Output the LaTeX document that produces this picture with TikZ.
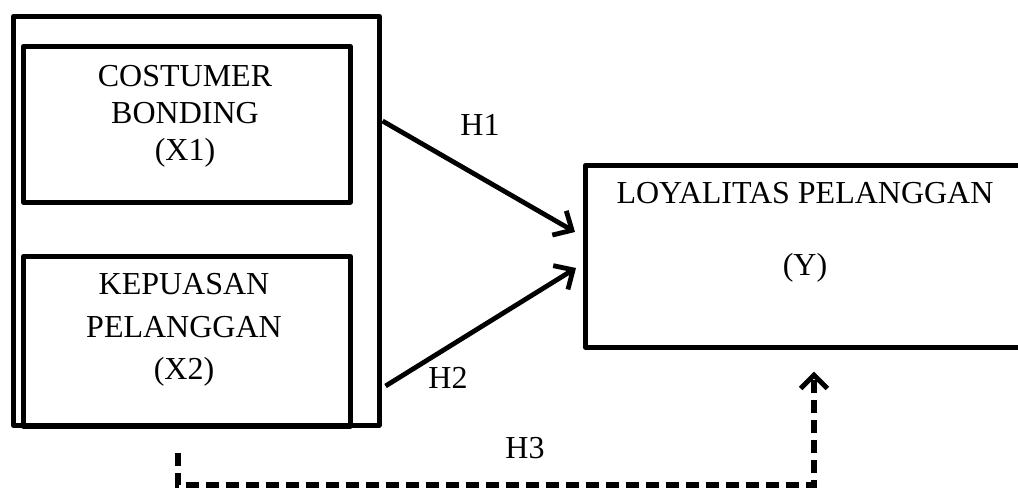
\documentclass[tikz,border=0pt]{standalone}
\usepackage{fontspec}
\setmainfont{Liberation Serif}
\usetikzlibrary{arrows.meta,calc}
\begin{document}
\begin{tikzpicture}[x=0.75pt,y=-0.75pt,
  frame/.style={draw=black,line width=3.4pt,line join=round,inner sep=0pt,anchor=north west},
  lbl/.style={font=\fontsize{24}{27.75}\selectfont,align=center,inner sep=0pt},
  hyp/.style={font=\fontsize{24}{27.75}\selectfont,inner sep=0pt},
  link/.style={line width=3.6pt,-{Straight Barb[length=11pt,width=21pt]}},
  dlink/.style={line width=3.8pt,dash pattern=on 10pt off 5pt,-{Straight Barb[length=10pt,width=20pt]}}]
\useasboundingbox (0,0) rectangle (1018,491);

% outer frame grouping the two independent variables
\node[frame,minimum width=366*0.75pt,minimum height=409*0.75pt] (outer) at (11,14) {};
% X1 and X2 boxes
\node[frame,minimum width=327*0.75pt,minimum height=156*0.75pt] (xone) at (21,44) {};
\node[frame,minimum width=327*0.75pt,minimum height=170*0.75pt] (xtwo) at (21,254) {};
\node[lbl] (xonetext) at (185,116) {COSTUMER\\BONDING\\(X1)};
\node[lbl,font=\fontsize{24}{32}\selectfont] (xtwotext) at (184,330) {KEPUASAN\\PELANGGAN\\(X2)};

% dependent variable box (runs past the right edge)
\node[frame,minimum width=444*0.75pt,minimum height=182*0.75pt] (ybox) at (583,163) {};
\node[lbl] (ytext) at (805,232) {LOYALITAS PELANGGAN\\[26pt](Y)};

% anchor points of the connectors
\coordinate (h1s) at ($(outer.north east)+(1,107)$);
\coordinate (h2s) at ($(outer.north east)+(4,372)$);
\coordinate (h1e) at ($(ybox.north west)+(-8,69)$);
\coordinate (h2e) at ($(ybox.north west)+(-7,105)$);
\coordinate (h3s) at (178,453);
\coordinate (h3a) at (178,485);
\coordinate (h3b) at (814,485);
\coordinate (h3e) at ($(ybox.south west)+(231,22)$);

\draw[link] (h1s) -- (h1e);
\draw[link] (h2s) -- (h2e);
\draw[dlink] (h3s) -- (h3a) -- (h3b) -- (h3e);

\node[hyp] (hone) at (480,125) {H1};
\node[hyp] (htwo) at (448,378) {H2};
\node[hyp] (hthree) at (525,448) {H3};
\end{tikzpicture}
\end{document}
